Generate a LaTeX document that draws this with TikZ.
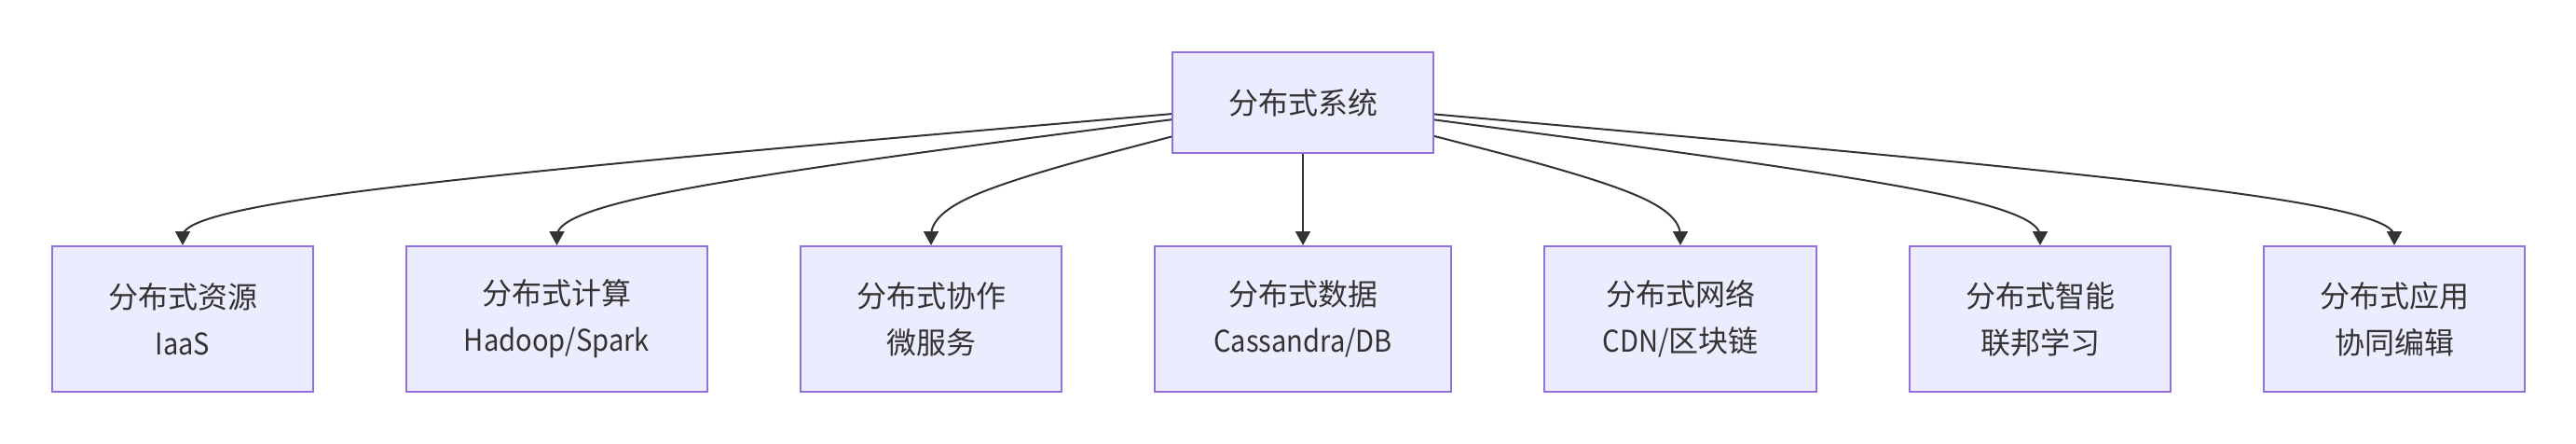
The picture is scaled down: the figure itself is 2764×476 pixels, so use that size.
\documentclass[tikz,border=0pt]{standalone}
\usepackage{fontspec}
\setmainfont{Noto Sans CJK SC}
\newfontfamily\latn{Noto Sans CJK SC}[FakeStretch=0.91]
\usetikzlibrary{calc,arrows.meta}
\definecolor{boxfill}{HTML}{ECECFF}
\definecolor{boxline}{HTML}{9370DB}
\definecolor{ink}{HTML}{333333}
\tikzset{
  box/.style={draw=boxline, fill=boxfill, line width=2pt, inner sep=0pt, align=center,
    text=ink, font=\fontsize{32}{50}\selectfont, minimum height=156},
  topbox/.style={box, minimum width=280, minimum height=108},
  edge/.style={draw=ink, line width=2pt, -{Triangle[length=15pt,width=16pt]}},
}
\newcommand\curvedge[2]{%
  \coordinate (mB) at (#2.north |- mid);
  \coordinate (mQ) at ($(#1)!.5!(#2.north)$);
  \draw[edge] (#1) -- ($(#1)!1/6!(mB)$)
    .. controls ($(#1)!1/3!(mB)$) and ($(#1)!2/3!(mB)$) .. ($(mQ)!2/3!(mB)$)
    .. controls ($(mB)!1/3!(#2.north)$) and ($(mB)!2/3!(#2.north)$) .. ($(mB)!5/6!(#2.north)$)
    -- (#2.north);
}
\begin{document}
\begin{tikzpicture}[x=1pt,y=-1pt]
\useasboundingbox (0,0) rectangle (2764,476);
\node[topbox] (top) at (1398,110) {分布式系统};
\node[box, minimum width=280] (b1) at (196,342) {分布式资源\\{\latn IaaS}};
\node[box, minimum width=323] (b2) at (597.5,342) {分布式计算\\{\latn Hadoop/Spark}};
\node[box, minimum width=280] (b3) at (999,342) {分布式协作\\微服务};
\node[box, minimum width=318] (b4) at (1398,342) {分布式数据\\{\latn Cassandra/DB}};
\node[box, minimum width=292] (b5) at (1803,342) {分布式网络\\{\latn CDN/}区块链};
\node[box, minimum width=280] (b6) at (2189,342) {分布式智能\\联邦学习};
\node[box, minimum width=280] (b7) at (2569,342) {分布式应用\\协同编辑};
\coordinate (mid) at (0,214);
\coordinate (s1) at ($(top.west)+(0,12.11)$);
\coordinate (s2) at ($(top.west)+(0,18.19)$);
\coordinate (s3) at ($(top.west)+(0,36.49)$);
\coordinate (s5) at ($(top.east)+(0,35.95)$);
\coordinate (s6) at ($(top.east)+(0,18.41)$);
\coordinate (s7) at ($(top.east)+(0,12.43)$);
\curvedge{s1}{b1}
\curvedge{s2}{b2}
\curvedge{s3}{b3}
\draw[edge] (top) -- (b4);
\curvedge{s5}{b5}
\curvedge{s6}{b6}
\curvedge{s7}{b7}
\end{tikzpicture}
\end{document}
